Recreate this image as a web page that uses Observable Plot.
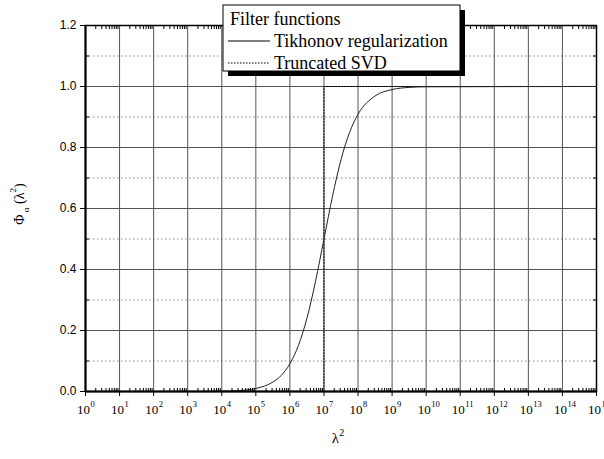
<!DOCTYPE html>
<html><head><meta charset="utf-8">
<script src="https://cdn.jsdelivr.net/npm/d3@7"></script>
<script src="https://cdn.jsdelivr.net/npm/@observablehq/plot@0.6"></script>
<style>body{margin:0;background:#fff}</style>
</head><body><div id="chart"></div>
<script>
// Tikhonov filter function (x = lambda^2, y = filter value)
const tikhonovX = [1, 1e3, 1e4, 3.16e4, 1e5, 3.16e5, 5.62e5, 1e6, 1.78e6, 3.16e6, 5.62e6, 1e7, 1.78e7, 3.16e7, 5.62e7, 1e8, 3.16e8, 1e9, 3.16e9, 1e10, 1e15];
const tikhonovY = [0, 0, 0.001, 0.003, 0.01, 0.031, 0.053, 0.091, 0.151, 0.24, 0.36, 0.5, 0.64, 0.76, 0.849, 0.909, 0.969, 0.99, 0.997, 0.999, 1.0];
// Truncated SVD step function
const tsvdX = [1, 1e7, 1e7, 1e15];
const tsvdY = [0, 0, 1, 1];
// ticks
const xExponents = d3.range(0, 16);
const xMajor = xExponents.map(e => Math.pow(10, e));
const xMinor = d3.range(0, 15).flatMap(e => d3.range(2, 10).map(m => m * Math.pow(10, e)));
const yMajor = [0, 0.2, 0.4, 0.6, 0.8, 1.0, 1.2];
const yMinor = [0.1, 0.3, 0.5, 0.7, 0.9, 1.1];

const tik = tikhonovX.map((x, i) => ({x, y: tikhonovY[i]}));
const tsvd = tsvdX.map((x, i) => ({x, y: tsvdY[i]}));
const xTicks = xExponents.map(e => ({x: Math.pow(10, e), e: String(e)}));

const serif = "Liberation Serif, Times New Roman, serif";
const plot = Plot.plot({
  width: 604, height: 459,
  marginLeft: 85, marginRight: 8, marginTop: 25, marginBottom: 68,
  x: {type: "log", domain: [1, 1e15]},
  y: {domain: [0, 1.2]},
  style: {fontFamily: "Liberation Sans, Arial, sans-serif", fontSize: "12px", color: "#000", background: "#fff"},
  marks: [
    Plot.ruleY(yMinor, {stroke: "#888", strokeDasharray: "1.5,2.5", strokeWidth: 1}),
    Plot.ruleY(yMajor, {stroke: "#555", strokeWidth: 1}),
    Plot.ruleX(xMajor, {stroke: "#555", strokeWidth: 1}),
    Plot.line(tsvd, {x: "x", y: "y", stroke: "#000", strokeDasharray: "1.5,1.5", strokeWidth: 1}),
    Plot.line(tik, {x: "x", y: "y", stroke: "#222", strokeWidth: 1, curve: "monotone-x"}),
    Plot.frame({stroke: "#000", strokeWidth: 1.5}),
    Plot.ruleX([1], {stroke: "#000", strokeWidth: 2}),
    Plot.ruleY([0], {stroke: "#000", strokeWidth: 2}),
    Plot.axisX({ticks: xMajor, tickSize: 5, tickFormat: () => "", label: null}),
    Plot.text(xTicks, {x: "x", y: () => 0, text: () => "10", dy: 18, dx: -2, fill: "#000", fontFamily: serif, fontSize: 13}),
    Plot.text(xTicks, {x: "x", y: () => 0, text: "e", dy: 13, dx: 5, textAnchor: "start", fill: "#000", fontFamily: serif, fontSize: 8.5}),
    Plot.axisX({ticks: xMinor, tickSize: -3, tickFormat: () => "", label: null}),
    Plot.axisX({ticks: xMinor, anchor: "top", tickSize: -3, tickFormat: () => "", label: null}),
    Plot.axisY({ticks: yMajor, tickSize: 5, tickPadding: 4, tickFormat: d3.format(".1f"), label: null, fontSize: 12}),
    Plot.axisY({ticks: yMinor, tickSize: -4, tickFormat: () => "", label: null}),
    Plot.axisY({ticks: yMinor, anchor: "right", tickSize: -4, tickFormat: () => "", label: null})
  ]
});
document.getElementById("chart").appendChild(plot);

const svg = d3.select(plot);
// x label
svg.append("text").attr("x", 338).attr("y", 443).attr("text-anchor", "middle")
  .attr("font-family", serif).attr("font-size", 15)
  .html('λ<tspan dy="-7" font-size="10">2</tspan>');
// y label
const yl = svg.append("text").attr("transform", "translate(24,204) rotate(-90)").attr("text-anchor", "middle")
  .attr("font-family", serif).attr("font-size", 14);
yl.html('Φ<tspan dy="5" font-size="9"> α</tspan><tspan dy="-5"> (λ</tspan><tspan dy="-8" font-size="9">2</tspan><tspan dy="8">)</tspan>');

// legend
const lg = svg.append("g").attr("font-family", serif).attr("text-anchor", "start");
lg.append("rect").attr("x", 228).attr("y", 10).attr("width", 237).attr("height", 66).attr("fill", "#000");
lg.append("rect").attr("x", 223).attr("y", 5).attr("width", 237).attr("height", 66).attr("fill", "#fff").attr("stroke", "#000").attr("stroke-width", 1);
lg.append("text").attr("x", 230).attr("y", 25).attr("font-size", 18).attr("text-anchor", "start").text("Filter functions");
lg.append("line").attr("x1", 228).attr("x2", 270).attr("y1", 41).attr("y2", 41).attr("stroke", "#000");
lg.append("text").attr("x", 274).attr("y", 47).attr("font-size", 18).attr("text-anchor", "start").text("Tikhonov regularization");
lg.append("line").attr("x1", 228).attr("x2", 270).attr("y1", 63).attr("y2", 63).attr("stroke", "#000").attr("stroke-dasharray", "1.5,1.5");
lg.append("text").attr("x", 274).attr("y", 69).attr("font-size", 18).attr("text-anchor", "start").text("Truncated SVD");
</script></body></html>
